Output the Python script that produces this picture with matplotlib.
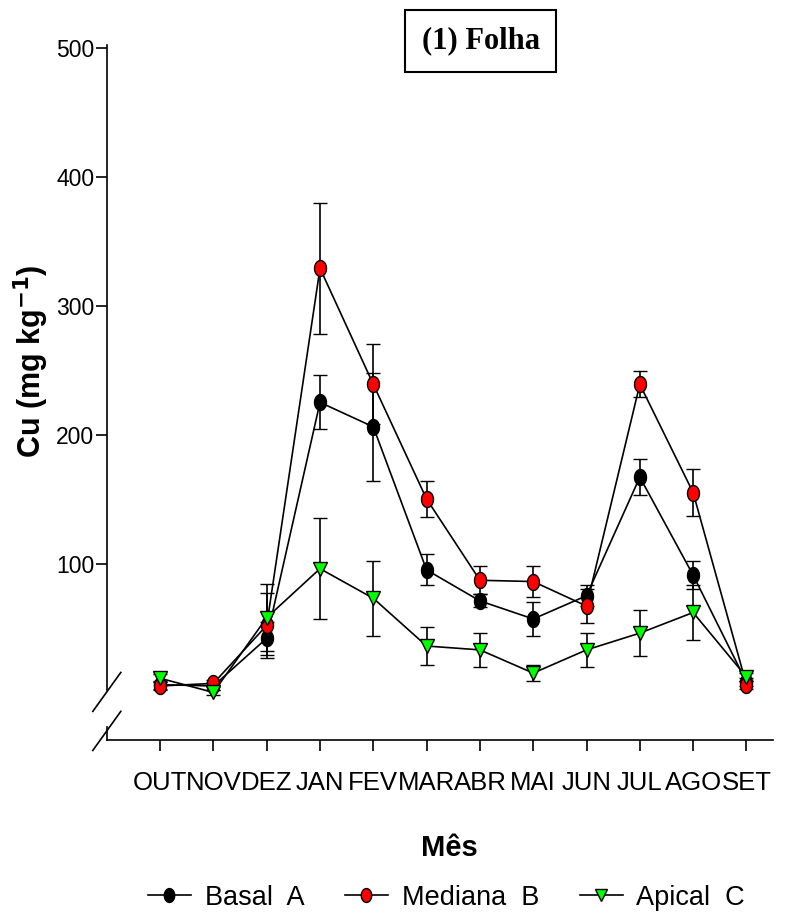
import matplotlib.pyplot as plt
from matplotlib.lines import Line2D
import numpy as np

plt.rcParams['font.family'] = ['Liberation Sans Narrow', 'Liberation Sans', 'DejaVu Sans']

meses = ['OUT', 'NOV', 'DEZ', 'JAN', 'FEV', 'MAR', 'ABR', 'MAI', 'JUN', 'JUL', 'AGO', 'SET']

basal = [6, 5, 42, 225, 206, 95, 71, 57, 75, 167, 91, 8]
basal_err = [3, 3, 13, 21, 42, 12, 5, 13, 8, 14, 11, 3]

mediana = [5, 7, 52, 329, 239, 150, 87, 86, 67, 239, 155, 6]
mediana_err = [3, 3, 25, 51, 31, 14, 11, 12, 13, 10, 18, 3]

apical = [11, 0, 58, 96, 73, 36, 33, 15, 33, 46, 62, 12]
apical_err = [3, 2, 26, 39, 29, 15, 13, 6, 13, 18, 21, 3]

nomes = ['Basal  A', 'Mediana  B', 'Apical  C']

x = np.arange(len(meses))

# slightly tall ellipse like the original markers
t = np.linspace(0, 2 * np.pi, 50)
oval = np.column_stack([0.75 * np.cos(t), np.sin(t)])

fig = plt.figure(figsize=(7.97, 9.24), dpi=100)
ax = fig.add_axes([0.134, 0.199, 0.836, 0.752])

kw = dict(color='black', lw=1.2, capsize=5, elinewidth=1.2, capthick=1.2, mec='black', mew=1)
ax.errorbar(x, basal, yerr=basal_err, marker=oval, ms=11.5, mfc='black', **kw)
ax.errorbar(x, mediana, yerr=mediana_err, marker=oval, ms=11.5, mfc='red', **kw)
ax.errorbar(x, apical, yerr=apical_err, marker='v', ms=10, mfc='#00ff00', **kw)

ax.set_xlim(-1, 11.5)
ax.set_ylim(-37, 502)
ax.set_yticks([100, 200, 300, 400, 500])
ax.set_xticks(x)
ax.set_xticklabels(meses, fontsize=18.5)
ax.tick_params(axis='both', length=8, width=1.2, direction='out')
ax.tick_params(axis='x', pad=14)
ax.tick_params(axis='y', pad=1, labelsize=16.5, labelfontfamily='Liberation Sans')

for s in ['top', 'right']:
    ax.spines[s].set_visible(False)
ax.spines['left'].set_bounds(1.5, 502)
ax.spines['left'].set_linewidth(1.2)
ax.spines['bottom'].set_linewidth(1.2)

# axis break
tr = ax.get_yaxis_transform()
ax.plot([0, 0], [-37, -27], transform=tr, color='black', lw=1.2, clip_on=False)
ax.plot([-0.021, 0.021], [-14.7, 15.5], transform=tr, color='black', lw=1.2, clip_on=False)
ax.plot([-0.021, 0.021], [-45, -14.7], transform=tr, color='black', lw=1.2, clip_on=False)

ax.set_ylabel('Cu (mg kg$^{\\mathbf{-1}}$)', fontsize=22, fontweight='bold',
              family='Liberation Sans')
ax.yaxis.set_label_coords(-0.084, 0.545)
ax.set_xlabel('Mês', fontsize=21, fontweight='bold', labelpad=28, family='Liberation Sans')
ax.xaxis.label.set_x(0.514)

fig.text(0.603, 0.9555, '(1) Folha', ha='center', va='center', fontsize=22, fontweight='bold',
         family='Liberation Serif',
         bbox=dict(boxstyle='square,pad=0.55', fc='white', ec='black', lw=1.5))

handles = [
    Line2D([], [], color='black', lw=1.2, marker=oval, ms=10, mfc='black', mec='black'),
    Line2D([], [], color='black', lw=1.2, marker=oval, ms=10, mfc='red', mec='black'),
    Line2D([], [], color='black', lw=1.2, marker='v', ms=9, mfc='#00ff00', mec='black'),
]
fig.legend(handles, nomes, loc='lower center', bbox_to_anchor=(0.56, -0.012), ncol=3,
           frameon=False, fontsize=19.5, handlelength=1.6, columnspacing=1.5, handletextpad=0.5)

fig.savefig('out.png', dpi=100)
